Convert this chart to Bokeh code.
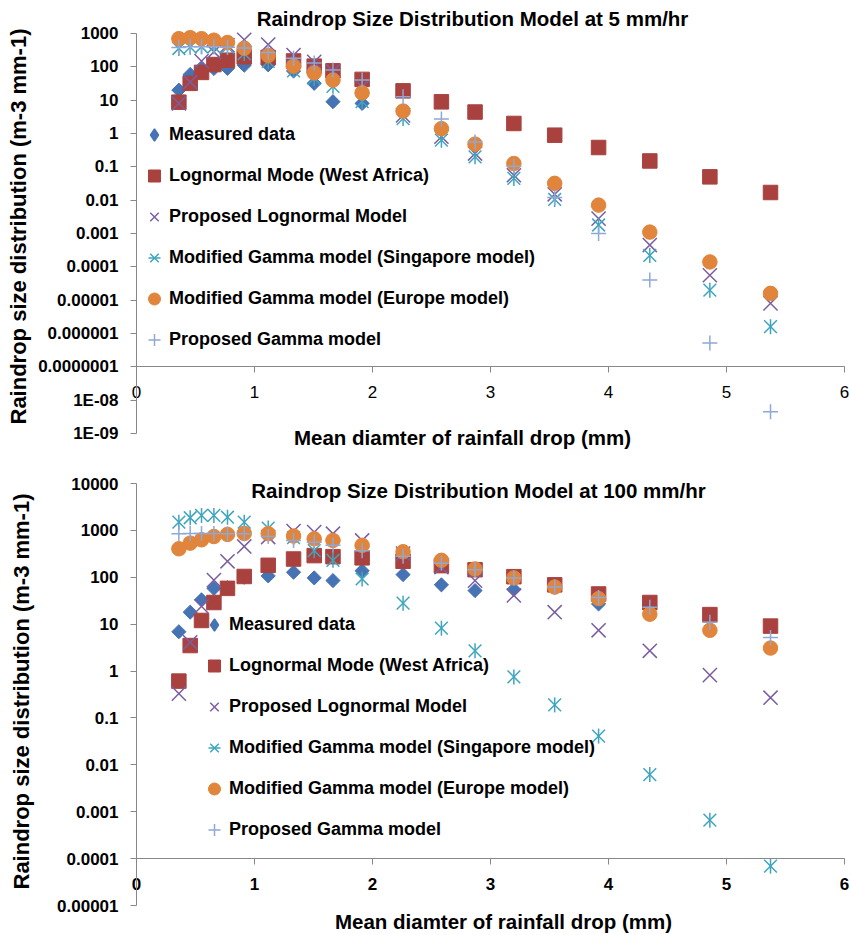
import json
import math
from bokeh.plotting import figure
from bokeh.models import FixedTicker, CustomJSTickFormatter, Label, Legend, LegendItem
from bokeh.layouts import column
from bokeh.embed import file_html
from bokeh.resources import INLINE

NAN = float("nan")

# ---------------- data ----------------
diameter = [0.359, 0.455, 0.551, 0.656, 0.771, 0.913, 1.116, 1.331, 1.506, 1.665,
            1.912, 2.259, 2.584, 2.869, 3.198, 3.544, 3.916, 4.350, 4.859, 5.373]

series_names = ["Measured data", "Lognormal Mode (West Africa)", "Proposed Lognormal Model",
                "Modified Gamma model (Singapore model)", "Modified Gamma model (Europe model)",
                "Proposed Gamma model"]

# 5 mm/hr
measured_5 = [20, 59, 85, 89, 90, 112, 115, 75, 32, 9, 8, NAN, NAN, NAN, NAN, NAN, NAN, NAN, NAN, NAN]
lognormal_wa_5 = [8.7, 32, 68, 117, 158, 200, 190, 150, 105, 76, 42, 19, 8.9, 4.4, 2.0, 0.89, 0.38, 0.15, 0.05, 0.017]
proposed_ln_5 = [8, 35, 148, 282, 447, 650, 466, 224, 141, 75, 25, 3.5, 0.8, 0.25, 0.056, 0.015, 0.0028, 0.00045, 5.6e-5, 8e-6]
singapore_5 = [355, 390, 400, 400, 390, 250, 145, 76, 45, 26, 9, 2.8, 0.63, 0.2, 0.045, 0.0105, 0.0018, 0.00022, 2e-5, 1.6e-6]
europe_5 = [700, 750, 700, 630, 537, 360, 220, 105, 66, 40, 16.6, 4.7, 1.4, 0.48, 0.126, 0.032, 0.0071, 0.0011, 1.4e-4, 1.6e-5]
prop_gamma_5 = [380, 400, 400, 400, 390, 370, 270, 180, 130, 80, 40, 12.6, 2.7, 0.56, 0.105, 0.012, 0.001, 4e-5, 5.2e-7, 4.5e-9]

# 100 mm/hr
measured_100 = [6.9, 18, 33, 58, 60, 100, 107, 128, 97, 85, 138, 114, 69, 52, 55, 60, 27, NAN, NAN, NAN]
lognormal_wa_100 = [0.61, 3.5, 12, 29, 58, 104, 180, 245, 290, 275, 260, 220, 177, 145, 103, 69, 44, 29, 16, 9.1]
proposed_ln_100 = [0.33, 4.1, 24, 87, 219, 455, 720, 970, 920, 850, 610, 320, 165, 85, 41, 18, 7.4, 2.7, 0.82, 0.27]
singapore_100 = [1500, 1860, 2090, 2090, 1910, 1500, 1120, 700, 370, 230, 92, 28, 8.2, 2.7, 0.75, 0.19, 0.041, 0.0062, 0.00066, 6.9e-5]
europe_100 = [405, 535, 630, 740, 820, 860, 850, 760, 660, 610, 480, 350, 230, 150, 97, 62, 35, 16.3, 7.4, 3.1]
prop_gamma_100 = [850, 860, 860, 860, 850, 850, 740, 610, 560, 480, 370, 280, 200, 145, 97, 62, 37, 23, 11, 5.2]

x_ticks = [0, 1, 2, 3, 4, 5, 6]
y_exps_top = [3, 2, 1, 0, -1, -2, -3, -4, -5, -6, -7, -8, -9]
y_labels_top = ["1000", "100", "10", "1", "0.1", "0.01", "0.001", "0.0001", "0.00001",
                "0.000001", "0.0000001", "1E-08", "1E-09"]
y_exps_bottom = [4, 3, 2, 1, 0, -1, -2, -3, -4, -5]
y_labels_bottom = ["10000", "1000", "100", "10", "1", "0.1", "0.01", "0.001", "0.0001", "0.00001"]

title_top = "Raindrop Size Distribution Model at 5 mm/hr"
title_bottom = "Raindrop Size Distribution Model at 100 mm/hr"
x_title = "Mean diamter of rainfall drop (mm)"
y_title = "Raindrop size distribution (m-3 mm-1)"

# ---------------- style ----------------
FONT = "Liberation Sans"
AXIS_COLOR = "#888888"
C_BLUE = "#4673B4"
C_RED = "#A9423F"
C_PURPLE = "#7B5EA1"
C_TEAL = "#3FA5BE"
C_ORANGE = "#E0853B"
C_LBLUE = "#8EA8D8"

FIG_W = 851
AX_LEFT_PX = 136    # pixel of x = 0
AX_RIGHT_PX = 844   # pixel of x = 6


def make_chart(height, top_px, bottom_px, exps, labels, x_cross_exp, xtick_bold,
               series, title, title_pos, xtitle_pos, ytitle_pos, legend_loc):
    x0, x1 = x_ticks[0], x_ticks[-1]
    ppu = (AX_RIGHT_PX - AX_LEFT_PX) / (x1 - x0)
    e_hi, e_lo = max(exps), min(exps)
    ppd = (bottom_px - top_px) / (e_hi - e_lo)
    xr = (x0 - AX_LEFT_PX / ppu, x1 + (FIG_W - AX_RIGHT_PX) / ppu)
    yr = (10.0 ** (e_lo - (height - bottom_px) / ppd), 10.0 ** (e_hi + top_px / ppd))

    p = figure(width=FIG_W, height=height, x_range=xr, y_range=yr, y_axis_type="log",
               title=None, output_backend="svg", toolbar_location=None,
               min_border=0, min_border_left=0, min_border_right=0,
               min_border_top=0, min_border_bottom=0)
    p.xgrid.visible = False
    p.ygrid.visible = False
    p.outline_line_color = None
    p.background_fill_color = "white"
    p.border_fill_color = "white"

    xa = p.xaxis[0]
    xa.fixed_location = 10.0 ** x_cross_exp
    xa.bounds = (x0, x1)
    xa.ticker = FixedTicker(ticks=x_ticks)
    xa.axis_line_color = AXIS_COLOR
    xa.major_tick_line_color = AXIS_COLOR
    xa.major_tick_out = 6
    xa.major_tick_in = 0
    xa.minor_tick_line_color = None
    xa.major_label_text_font = FONT
    xa.major_label_text_font_size = "17px"
    xa.major_label_text_font_style = "bold" if xtick_bold else "normal"
    xa.major_label_text_color = "black"
    xa.major_label_standoff = 13

    ya = p.yaxis[0]
    ya.fixed_location = x0
    ya.bounds = (10.0 ** e_lo, 10.0 ** e_hi)
    ya.ticker = FixedTicker(ticks=[10.0 ** e for e in exps])
    mapping = json.dumps({str(e): l for e, l in zip(exps, labels)})
    ya.formatter = CustomJSTickFormatter(
        code="const m = " + mapping + "; const e = Math.round(Math.log10(tick)); return m[String(e)] ?? '';")
    ya.axis_line_color = AXIS_COLOR
    ya.major_tick_line_color = AXIS_COLOR
    ya.major_tick_out = 6
    ya.major_tick_in = 0
    ya.minor_tick_line_color = None
    ya.major_label_text_font = FONT
    ya.major_label_text_font_size = "17px"
    ya.major_label_text_font_style = "bold"
    ya.major_label_text_color = "black"
    ya.major_label_standoff = 12

    (meas, logn, pln, sing, eur, pgam) = series
    r1 = p.scatter(diameter, meas, marker="square", angle=math.pi / 4, size=10,
                   fill_color=C_BLUE, line_color=C_BLUE)
    r1_leg = p.scatter(diameter, meas, marker="diamond", size=17,
                       fill_color=C_BLUE, line_color=C_BLUE, line_width=1.5, visible=False)
    r2 = p.scatter(diameter, logn, marker="square", size=14.5,
                   fill_color=C_RED, line_color=C_RED)
    r3 = p.scatter(diameter, pln, marker="x", size=20, line_color=C_PURPLE, line_width=1.5)
    r4a = p.scatter(diameter, sing, marker="x", size=18, line_color=C_TEAL, line_width=1.5)
    r4b = p.scatter(diameter, sing, marker="dash", angle=math.pi / 2, size=15,
                    line_color=C_TEAL, line_width=1.5)
    r5 = p.scatter(diameter, eur, marker="circle", size=14.5,
                   fill_color=C_ORANGE, line_color=C_ORANGE)
    r6 = p.scatter(diameter, pgam, marker="cross", size=15, line_color=C_LBLUE, line_width=1.5)

    rends = [[r1_leg], [r2], [r3], [r4a, r4b], [r5], [r6]]
    legend = Legend(items=[LegendItem(label=n, renderers=r) for n, r in zip(series_names, rends)],
                    location=legend_loc, glyph_width=30, glyph_height=35, label_height=35,
                    spacing=6, padding=0, margin=0, label_standoff=0,
                    border_line_color=None, background_fill_alpha=0,
                    inactive_fill_alpha=0,
                    label_text_font=FONT, label_text_font_style="bold",
                    label_text_font_size="18px", label_text_color="black")
    p.add_layout(legend)

    p.add_layout(Label(x=title_pos[0], y=title_pos[1], x_units="screen", y_units="screen",
                       text=title, text_align="center", text_baseline="middle", text_font=FONT,
                       text_font_style="bold", text_font_size="20.5px", text_color="black"))
    p.add_layout(Label(x=xtitle_pos[0], y=xtitle_pos[1], x_units="screen", y_units="screen",
                       text=x_title, text_align="center", text_baseline="middle", text_font=FONT,
                       text_font_style="bold", text_font_size="20.5px", text_color="black"))
    p.add_layout(Label(x=ytitle_pos[0], y=ytitle_pos[1], x_units="screen", y_units="screen",
                       text=y_title, angle=math.pi / 2, text_align="center",
                       text_baseline="middle", text_font=FONT, text_font_style="bold",
                       text_font_size="22px", text_color="black"))
    return p


p1 = make_chart(455, 33, 433, y_exps_top, y_labels_top, -7, False,
                (measured_5, lognormal_wa_5, proposed_ln_5, singapore_5, europe_5, prop_gamma_5),
                title_top, (472, 437), (462, 18), (18, 229), (139, 98))

p2 = make_chart(480, 28, 450, y_exps_bottom, y_labels_bottom, -4, True,
                (measured_100, lognormal_wa_100, proposed_ln_100, singapore_100, europe_100, prop_gamma_100),
                title_bottom, (478, 445), (503, 14), (21, 244), (199, 88))

layout = column(p1, p2, spacing=0)
open("out.html", "w").write(file_html(layout, INLINE))
